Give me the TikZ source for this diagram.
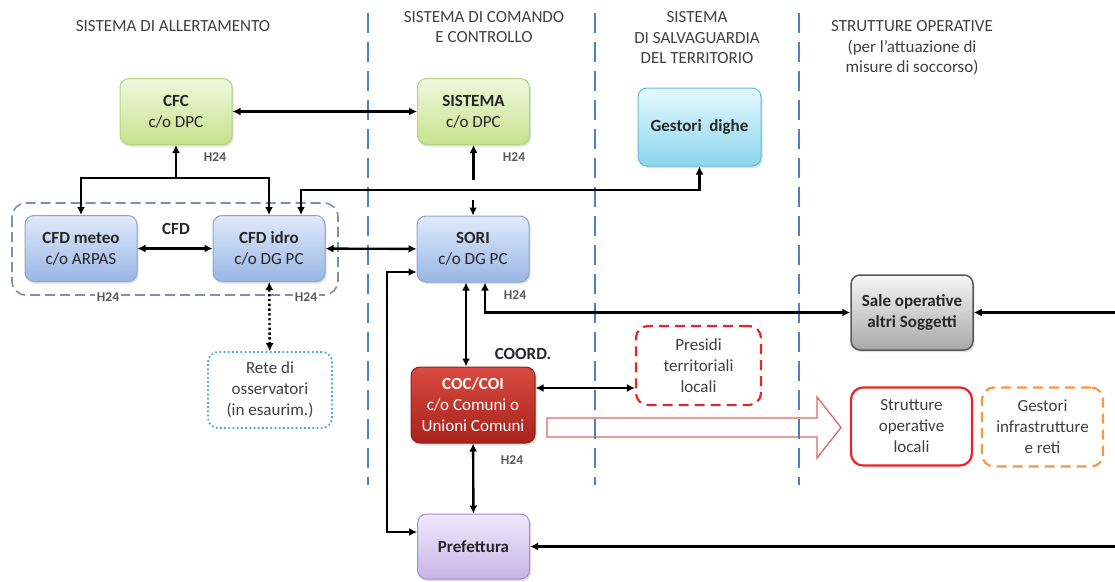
\documentclass[tikz,border=0pt]{standalone}
\usepackage{fontspec}
\setmainfont{Carlito}
\usetikzlibrary{arrows.meta,shadows}

\definecolor{divblue}{RGB}{79,129,189}
\definecolor{greentop}{RGB}{240,248,222}
\definecolor{greenbot}{RGB}{198,226,140}
\definecolor{greenline}{RGB}{178,212,128}
\definecolor{bluetop}{RGB}{224,234,250}
\definecolor{bluebot}{RGB}{152,182,228}
\definecolor{blueline}{RGB}{140,165,210}
\definecolor{cyantop}{RGB}{228,249,253}
\definecolor{cyanbot}{RGB}{140,214,238}
\definecolor{cyanline}{RGB}{100,188,218}
\definecolor{greytop}{RGB}{246,246,246}
\definecolor{greybot}{RGB}{168,168,168}
\definecolor{greyline}{RGB}{88,88,88}
\definecolor{redtop}{RGB}{216,74,64}
\definecolor{redbot}{RGB}{168,34,28}
\definecolor{redline}{RGB}{150,30,25}
\definecolor{purpletop}{RGB}{240,232,250}
\definecolor{purplebot}{RGB}{200,180,232}
\definecolor{purpleline}{RGB}{165,140,205}
\definecolor{alertred}{RGB}{232,36,40}
\definecolor{softred}{RGB}{228,100,100}
\definecolor{orangeline}{RGB}{247,150,70}
\definecolor{tealline}{RGB}{75,172,198}
\definecolor{frameline}{RGB}{125,145,175}
\definecolor{labelgrey}{RGB}{89,89,89}

\begin{document}
\begin{tikzpicture}[
		x=1pt,
		y=-1pt,
		box/.style={rounded corners=9pt, draw, line width=1pt,
			minimum width=112pt, minimum height=66pt, align=center,
			font=\fontsize{17}{21}\selectfont, text=black!85,
			drop shadow={opacity=0.25, shadow xshift=1.5pt, shadow yshift=-2pt}},
		greenbox/.style={box, draw=greenline, top color=greentop, bottom color=greenbot},
		bluebox/.style={box, draw=blueline, top color=bluetop, bottom color=bluebot},
		cyanbox/.style={box, draw=cyanline, top color=cyantop, bottom color=cyanbot},
		greybox/.style={box, draw=greyline, line width=1.5pt, top color=greytop, bottom color=greybot},
		redbox/.style={box, draw=redline, top color=redtop, bottom color=redbot, text=white},
		purplebox/.style={box, draw=purpleline, top color=purpletop, bottom color=purplebot},
		plainbox/.style={rounded corners=12pt, line width=2.2pt, fill=white,
			minimum width=121pt, minimum height=78pt, align=center,
			font=\fontsize{17}{21}\selectfont, text=black!75},
		head/.style={font=\fontsize{17}{20.5}\selectfont, text=black!75, align=center},
		hlabel/.style={font=\fontsize{13.5}{15}\selectfont\bfseries, text=labelgrey},
		tag/.style={font=\fontsize{17}{20}\selectfont\bfseries, text=black!85},
		link/.style={line width=2.4pt, -{Latex[length=8pt,width=8pt]}},
		dlink/.style={line width=2.4pt, {Latex[length=8pt,width=8pt]}-{Latex[length=8pt,width=8pt]}},
		divider/.style={draw=divblue, line width=2.2pt, dash pattern=on 20pt off 9pt}
	]
	
	\useasboundingbox (0,0) rectangle (1115,581);
	
	% hollow arrow towards the local structures
	\draw[softred, line width=1.3pt, fill=white]
		(547,418) -- (817,418) -- (817,397) -- (841,427.5) -- (817,458) -- (817,437) -- (547,437) -- cycle;
	
	% column dividers
	\foreach \x in {368,595,799}
	\draw[divider] (\x,13) -- (\x,485);
	
	% headings
	\node[head] (hA) at (173,26) {SISTEMA DI ALLERTAMENTO};
	\node[head] (hB) at (484,27) {SISTEMA DI COMANDO\\E CONTROLLO};
	\node[head] (hC) at (697,38) {SISTEMA\\DI SALVAGUARDIA\\DEL TERRITORIO};
	\node[head] (hD) at (912,48) {STRUTTURE OPERATIVE\\(per l'attuazione di\\misure di soccorso)};
	
	% CFD frame
	\draw[frameline, line width=1.6pt, dash pattern=on 10pt off 5pt, rounded corners=14pt]
		(12,203) rectangle (338,295);
	\node[tag] (cfdtag) at (176,229) {CFD};
	
	% boxes
	\node[greenbox] (cfc) at (176,111.5) {\textbf{CFC}\\c/o DPC};
	\node[greenbox] (sistema) at (473.5,111.5) {\textbf{SISTEMA}\\c/o DPC};
	\node[cyanbox, minimum width=123pt, minimum height=78pt] (dighe) at (699.5,127) {\textbf{Gestori\ \ dighe}};
	\node[bluebox] (meteo) at (81,248.5) {\textbf{CFD meteo}\\c/o ARPAS};
	\node[bluebox] (idro) at (269,248.5) {\textbf{CFD idro}\\c/o DG PC};
	\node[bluebox] (sori) at (473,249) {\textbf{SORI}\\c/o DG PC};
	\node[greybox, minimum width=122pt, minimum height=75pt] (sale) at (912,312.5) {\textbf{Sale operative}\\\textbf{altri Soggetti}};
	\node[redbox, minimum width=124pt, minimum height=76pt] (coc) at (473,405) {\textbf{COC/COI}\\c/o Comuni o\\Unioni Comuni};
	\node[purplebox, minimum height=65pt] (pref) at (473.5,546.5) {\textbf{Prefettura}};
	\node[plainbox, draw=alertred, dash pattern=on 10pt off 6pt, minimum width=125pt, minimum height=79pt] (presidi) at (698.5,365.5) {Presidi\\territoriali\\locali};
	\node[plainbox, draw=alertred] (strutture) at (911.5,426.5) {Strutture\\operative\\locali};
	\node[plainbox, draw=orangeline, dash pattern=on 10pt off 6pt, minimum height=79pt] (infra) at (1042.5,427) {Gestori\\infrastrutture\\e reti};
	\node[plainbox, draw=tealline, line width=1.8pt, dash pattern=on 1.8pt off 2.4pt, rounded corners=10pt, minimum width=124pt, minimum height=76pt] (rete) at (270,390) {Rete di\\osservatori\\(in esaurim.)};
	
	\node[tag] (coord) at (523,354) {COORD.};
	
	% H24 labels
	\node[hlabel] (h1) at (215,157) {H24};
	\node[hlabel] (h2) at (514,157) {H24};
	\node[hlabel, fill=white, inner sep=2pt] (h3) at (108,297) {H24};
	\node[hlabel, fill=white, inner sep=2pt] (h4) at (306,297) {H24};
	\node[hlabel] (h5) at (515,295) {H24};
	\node[hlabel] (h6) at (512,460) {H24};
	
	% free ends
	\coordinate (split) at (176,178);
	\coordinate (bus) at (700,190);
	\coordinate (sisup) at (473.5,180);
	\coordinate (soridn) at (473,200);
	\coordinate (rail) at (387,400);
	\coordinate (edgeS) at (1115,312.5);
	\coordinate (edgeP) at (1115,546.5);
	
	% connectors
	\draw[dlink] (cfc) -- (sistema);
	\draw[link] (split) -- (cfc);
	\draw[link] (split) -| (meteo.north);
	\draw[link] (split) -| (idro.north);
	\draw[dlink] (dighe.south) -- (dighe.south |- bus) -| ([xshift=32pt]idro.north);
	\draw[link] (sisup) -- (sistema.south);
	\draw[link] (soridn) -- (sori.north);
	\draw[dlink] (meteo) -- (idro);
	\draw[dlink] (idro) -- (sori);
	\draw[dlink] ([yshift=-23pt]sori.west) -| (rail) |- ([yshift=14.5pt]pref.west);
	\draw[dlink] ([xshift=-7pt]sori.south) -- ([xshift=-7pt]coc.north);
	\draw[dlink] ([xshift=12pt]sori.south) |- (sale.west);
	\draw[link] (edgeS) -- (sale.east);
	\draw[dlink] ([yshift=17pt]coc.east) -- ([yshift=17pt]coc.east -| presidi.west);
	\draw[dlink] (coc) -- (pref);
	\draw[link] (edgeP) -- (pref.east);
	\draw[dlink, dash pattern=on 2.4pt off 2.4pt] (idro) -- (rete);
	
\end{tikzpicture}
\end{document}
